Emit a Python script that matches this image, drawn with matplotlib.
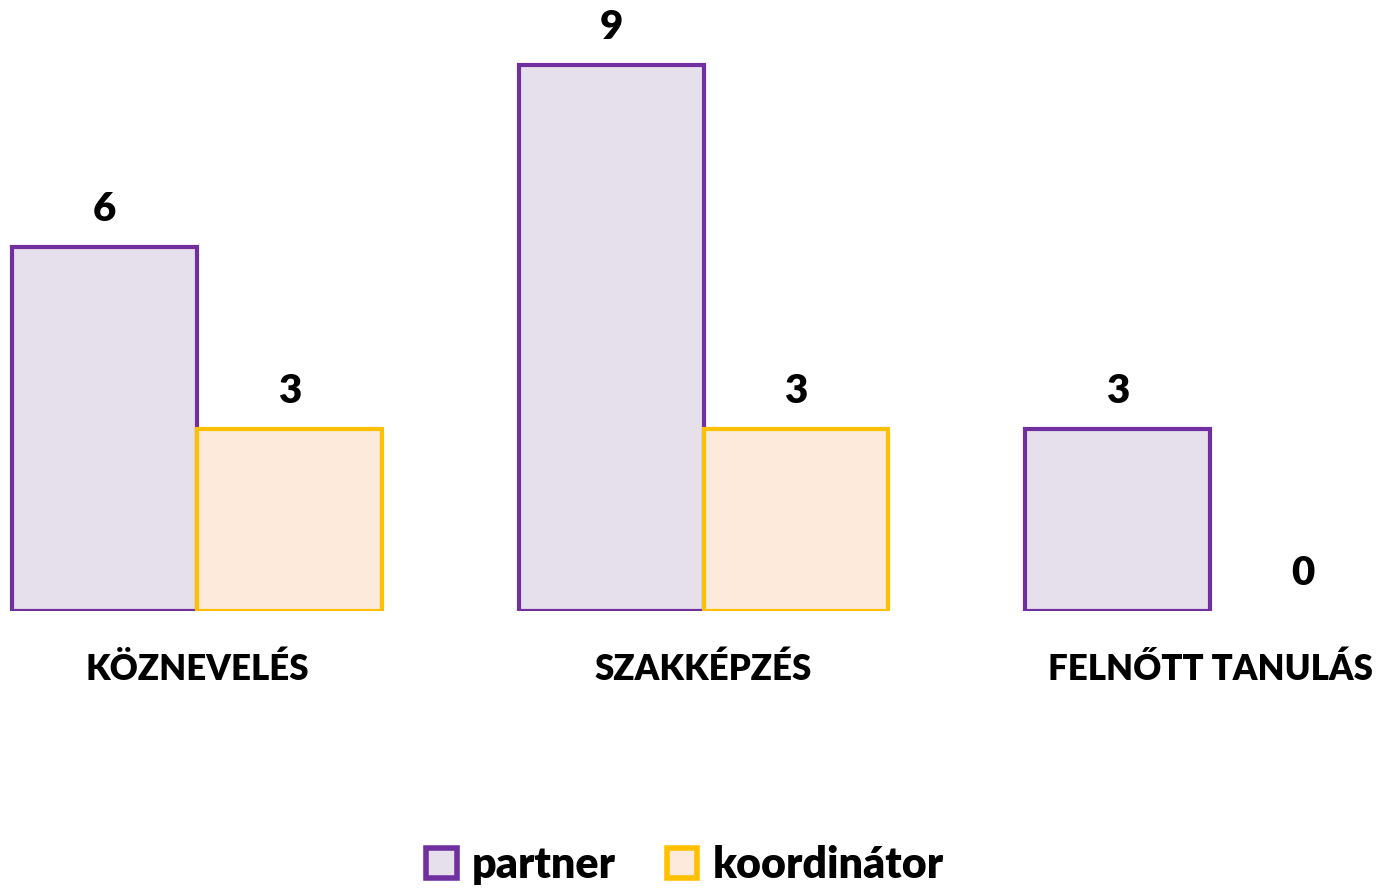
import numpy as np
import matplotlib.pyplot as plt

plt.rcParams['font.family'] = ['Lato', 'DejaVu Sans']

# adatok
kategoriak = ["KÖZNEVELÉS", "SZAKKÉPZÉS", "FELNŐTT TANULÁS"]
partner = [6, 9, 3]
koordinator = [3, 3, 0]
sorozatok = ["partner", "koordinátor"]

W, H = 1381, 888
fig = plt.figure(figsize=(W / 100, H / 100), dpi=100)
ax = fig.add_axes([0, (H - 611) / H, 1, 611 / H])

x = np.arange(len(kategoriak))
w = 0.365
egyseg = 506.5
ax.set_xlim(-197 / egyseg, (W - 197) / egyseg)
ax.set_ylim(0, 611 / 60.67)

b1 = ax.bar(x - w / 2, partner, w, color='#E6E0EC', edgecolor='#7030A0',
            linewidth=3, label=sorozatok[0])
b2 = ax.bar(x + w / 2, koordinator, w, color='#FDEADA', edgecolor='#FFC000',
            linewidth=3, label=sorozatok[1])

for bars, vals in [(b1, partner), (b2, koordinator)]:
    for b, v in zip(bars, vals):
        if v == 0:
            b.set_linewidth(0)
        ax.annotate(str(v), (b.get_x() + b.get_width() / 2, v),
                    xytext=(0, 27), textcoords='offset points',
                    ha='center', va='center', fontsize=29, fontweight='heavy')

for xi, k in zip(x, kategoriak):
    ax.annotate(k, (xi, 0), xytext=(0, -42), textcoords='offset points',
                ha='center', va='center', fontsize=25, fontweight='heavy',
                annotation_clip=False)

ax.axis('off')

leg = fig.legend(loc='center', bbox_to_anchor=(685 / W, 1 - 865 / H), ncol=2,
                 frameon=False, prop={'size': 31, 'weight': 'heavy'},
                 handlelength=0.7, handleheight=0.7, handletextpad=0.35,
                 columnspacing=1.2)
for h in leg.legend_handles:
    h.set_linewidth(4)

fig.savefig('out.png', dpi=100)
